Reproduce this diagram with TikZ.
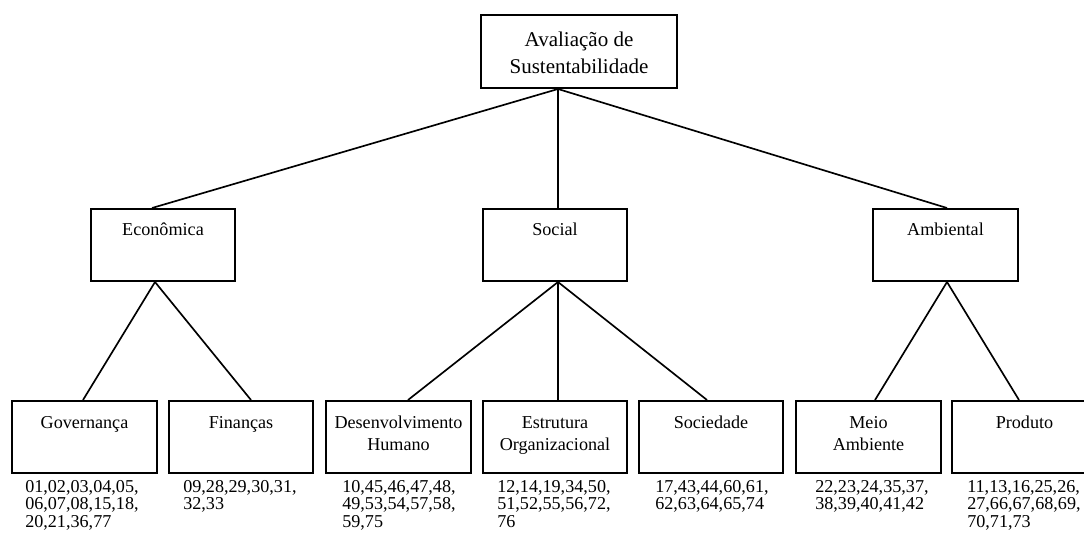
\documentclass[tikz,border=0pt]{standalone}
\usepackage{fontspec}
\setmainfont{Liberation Serif}
\usetikzlibrary{calc}
\newdimen\pxu
\pxu=0.75pt
% multi-line nodes sit on the baseline of their last line
\tikzset{
  box/.style={draw, line width=1.5pt, inner sep=0pt},
  link/.style={draw, line width=1.25pt},
  toptext/.style={align=center, inner sep=0pt, anchor=base,
    font=\fontsize{15.75pt}{20.25pt}\selectfont},
  boxtext/.style={align=center, inner sep=0pt, anchor=base,
    font=\fontsize{13.6pt}{16.3pt}\selectfont},
  codes/.style={align=left, inner sep=0pt, anchor=base west,
    font=\fontsize{13.6pt}{13.1pt}\selectfont},
}
\begin{document}
\begin{tikzpicture}[x=0.75pt, y=-0.75pt]
\clip (0,0) rectangle (1084,538);
\fill[white] (0,0) rectangle (1084,538);

% root
\node[box, minimum width=196\pxu, minimum height=73\pxu] (root) at (579,51.5) {};
\node[toptext] (roott) at (579,74) {Avaliação de\\Sustentabilidade};

% dimensions
\node[box, minimum width=144\pxu, minimum height=72\pxu] (eco) at (163,245) {};
\node[boxtext] (ecot) at (163,235) {Econômica};
\node[box, minimum width=144\pxu, minimum height=72\pxu] (soc) at (555,245) {};
\node[boxtext] (soct) at (555,235) {Social};
\node[box, minimum width=145\pxu, minimum height=72\pxu] (amb) at (945.5,245) {};
\node[boxtext] (ambt) at (945.5,235) {Ambiental};

% indicator groups
\node[box, minimum width=145\pxu, minimum height=72\pxu] (gov) at (84.5,437) {};
\node[boxtext] (govt) at (84.5,428) {Governança};
\node[box, minimum width=144\pxu, minimum height=72\pxu] (fin) at (241,437) {};
\node[boxtext] (fint) at (241,428) {Finanças};
\node[box, minimum width=145\pxu, minimum height=72\pxu] (des) at (398.5,437) {};
\node[boxtext] (dest) at (398.5,450) {Desenvolvimento\\Humano};
\node[box, minimum width=144\pxu, minimum height=72\pxu] (est) at (555,437) {};
\node[boxtext] (estt) at (555,450) {Estrutura\\Organizacional};
\node[box, minimum width=144\pxu, minimum height=72\pxu] (sty) at (711,437) {};
\node[boxtext] (styt) at (711,428) {Sociedade};
\node[box, minimum width=145\pxu, minimum height=72\pxu] (mei) at (868.5,437) {};
\node[boxtext] (meit) at (868.5,450) {Meio\\Ambiente};
\node[box, minimum width=145\pxu, minimum height=72\pxu] (pro) at (1024.5,437) {};
\node[boxtext] (prot) at (1024.5,428) {Produto};

% indicator numbers
\node[codes] (govn) at (25,527) {01,02,03,04,05,\\06,07,08,15,18,\\20,21,36,77};
\node[codes] (finn) at (183,509.5) {09,28,29,30,31,\\32,33};
\node[codes] (desn) at (342,527) {10,45,46,47,48,\\49,53,54,57,58,\\59,75};
\node[codes] (estn) at (497,527) {12,14,19,34,50,\\51,52,55,56,72,\\76};
\node[codes] (styn) at (655,509.5) {17,43,44,60,61,\\62,63,64,65,74};
\node[codes] (mein) at (815,509.5) {22,23,24,35,37,\\38,39,40,41,42};
\node[codes] (pron) at (967,527) {11,13,16,25,26,\\27,66,67,68,69,\\70,71,73};

% branch points
\coordinate (rootj) at ($(root.south)+(-21,0)$);
\coordinate (ecoj) at ($(eco.south)+(-8,0)$);
\coordinate (socj) at ($(soc.south)+(3,0)$);
\coordinate (ambj) at ($(amb.south)+(1.5,0)$);

% connectors
\draw[link] (rootj) -- ($(eco.north)+(-11,0)$);
\draw[link] (rootj) -- ($(soc.north)+(3,0)$);
\draw[link] (rootj) -- ($(amb.north)+(1.5,0)$);
\draw[link] (ecoj) -- ($(gov.north)+(-1.5,0)$);
\draw[link] (ecoj) -- ($(fin.north)+(10,0)$);
\draw[link] (socj) -- ($(des.north)+(9.5,0)$);
\draw[link] (socj) -- ($(est.north)+(3,0)$);
\draw[link] (socj) -- ($(sty.north)+(-4,0)$);
\draw[link] (ambj) -- ($(mei.north)+(6.5,0)$);
\draw[link] (ambj) -- ($(pro.north)+(-5.5,0)$);
\end{tikzpicture}
\end{document}
